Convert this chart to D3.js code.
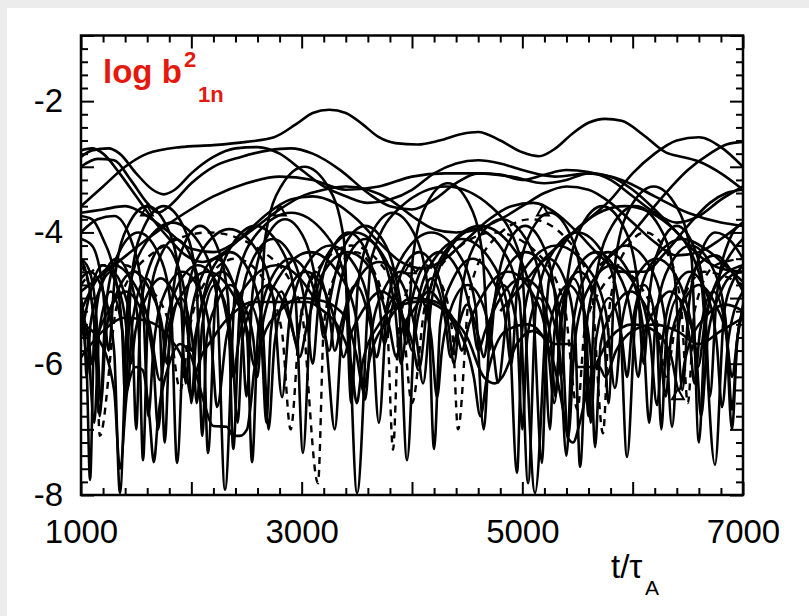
<!DOCTYPE html>
<html>
<head>
<meta charset="utf-8">
<script src="https://cdn.jsdelivr.net/npm/d3@7"></script>
<style>
  body { margin: 0; background: #ececec; }
  svg { display: block; }
</style>
</head>
<body>
<svg id="chart"></svg>
<script>
// Tick labels
const xLabelTicks = [1000, 3000, 5000, 7000];
const yLabelTicks = [-2, -4, -6, -8];

// Smooth upper curves [t, log b^2]
const u1 = [[1000,-3.6],[1200,-3.3],[1400,-3.0],[1600,-2.8],[1900,-2.7],[2200,-2.67],[2500,-2.62],[2750,-2.55],[2950,-2.35],[3100,-2.18],[3250,-2.13],[3400,-2.18],[3550,-2.35],[3700,-2.55],[3850,-2.64],[4050,-2.66],[4250,-2.6],[4450,-2.5],[4600,-2.47],[4800,-2.6],[5000,-2.78],[5150,-2.84],[5300,-2.72],[5450,-2.5],[5600,-2.33],[5750,-2.27],[5900,-2.3],[6100,-2.52],[6300,-2.78],[6450,-2.85],[6600,-2.92],[6800,-3.1],[7000,-3.35]];
const u2 = [[1000,-2.85],[1100,-2.75],[1250,-2.72],[1350,-2.8],[1500,-3.1],[1650,-3.35],[1750,-3.42],[1850,-3.35],[2000,-3.1],[2200,-2.85],[2400,-2.72],[2600,-2.7],[2800,-2.8],[3000,-3.05],[3200,-3.3],[3400,-3.45],[3600,-3.55],[3800,-3.5],[4000,-3.35],[4200,-3.1],[4400,-2.95],[4600,-2.9],[4800,-2.95],[5000,-3.05],[5300,-3.15],[5600,-3.1],[5900,-3.2],[6200,-3.45],[6500,-3.7],[6800,-3.85],[7000,-3.9]];
const u3 = [[1000,-3.0],[1150,-2.88],[1300,-2.9],[1450,-3.2],[1600,-3.55],[1700,-3.7],[1800,-3.6],[2000,-3.25],[2200,-3.0],[2450,-2.85],[2700,-2.75],[2900,-2.72],[3100,-2.8],[3350,-3.05],[3600,-3.4],[3800,-3.6],[4000,-3.65],[4200,-3.5],[4400,-3.25],[4600,-3.1],[4800,-3.12],[5000,-3.2],[5200,-3.12],[5400,-3.05],[5600,-3.08],[5800,-3.2],[6000,-3.45],[6200,-3.7],[6400,-3.85],[6600,-3.75],[6800,-3.5],[7000,-3.3]];
const u4 = [[4800,-5.2],[5000,-4.8],[5200,-4.4],[5400,-4.1],[5600,-3.8],[5800,-3.5],[6000,-3.1],[6200,-2.8],[6400,-2.6],[6600,-2.55],[6800,-2.7],[7000,-3.0]];
const u5 = [[5700,-4.5],[5900,-4.2],[6100,-3.8],[6300,-3.4],[6500,-3.05],[6700,-2.8],[6850,-2.66],[7000,-2.62]];
const u6 = [[1000,-3.7],[1200,-3.65],[1400,-3.6],[1600,-3.75],[1800,-4.0],[2000,-4.25],[2200,-4.3],[2400,-4.15],[2600,-3.9],[2800,-3.65],[3000,-3.45],[3200,-3.35],[3400,-3.3],[3600,-3.35],[3800,-3.5],[4000,-3.75],[4200,-3.95],[4400,-4.0],[4600,-3.95],[4800,-3.8],[5000,-3.6],[5200,-3.4],[5400,-3.3],[5600,-3.35],[5800,-3.55],[6000,-3.85],[6200,-4.15],[6400,-4.35],[6600,-4.3],[6800,-4.1],[7000,-3.85]];
const u7 = [[1000,-4.9],[1300,-4.5],[1600,-4.1],[1900,-3.75],[2200,-3.45],[2500,-3.25],[2800,-3.15],[3100,-3.2],[3400,-3.35],[3700,-3.3],[4000,-3.15],[4300,-3.1],[4600,-3.1],[4900,-3.15],[5200,-3.25],[5400,-3.2],[5600,-3.1],[5800,-3.15],[6000,-3.35],[6200,-3.65],[6400,-4.0],[6600,-4.35],[6800,-4.55],[7000,-4.6]];
const u8 = [[1000,-2.75],[1100,-2.72],[1200,-2.8],[1350,-3.1],[1500,-3.45],[1650,-3.8],[1800,-4.1],[1950,-4.35],[2100,-4.45],[2300,-4.3],[2500,-4.0],[2700,-3.7],[2900,-3.5],[3100,-3.45],[3300,-3.55],[3500,-3.8],[3700,-4.15],[3900,-4.45],[4100,-4.55],[4300,-4.4],[4500,-4.1],[4700,-3.8],[4900,-3.6],[5100,-3.55],[5300,-3.7],[5500,-4.0],[5700,-4.35],[5900,-4.6],[6100,-4.6],[6300,-4.3],[6500,-3.9],[6700,-3.55],[6850,-3.4],[7000,-3.35]];

// Arched curves with sharp dips
const l1 = [[1000,-4.7],[1080,-4.6],[1200,-4.9],[1300,-5.8],[1353,-7.97],[1429,-4.95],[1591,-4.15],[1829,-3.85],[2067,-4.15],[2229,-4.95],[2305,-7.92],[2401,-4.8],[2604,-4.0],[2904,-3.7],[3203,-4.0],[3406,-4.8],[3502,-7.97],[3631,-4.4],[3905,-3.6],[4309,-3.3],[4712,-3.6],[4986,-4.4],[5115,-7.97],[5245,-4.7],[5523,-3.9],[5930,-3.6],[6338,-3.9],[6616,-4.7],[6746,-7.54],[6830,-5.2],[6920,-4.7],[7000,-4.5]];
const l2 = [[1000,-5.3],[1050,-6.0],[1082,-7.77],[1120,-5.5],[1200,-4.7],[1322,-4.4],[1442,-4.7],[1524,-5.5],[1562,-7.47],[1609,-5.2],[1709,-4.4],[1856,-4.1],[2004,-4.4],[2104,-5.2],[2151,-7.36],[2220,-5.0],[2366,-4.2],[2581,-3.9],[2797,-4.2],[2943,-5.0],[3012,-7.36],[3087,-5.1],[3248,-4.3],[3483,-4.0],[3719,-4.3],[3880,-5.1],[3955,-7.47],[4035,-5.2],[4204,-4.4],[4453,-4.1],[4703,-4.4],[4872,-5.2],[4952,-7.66],[4998,-5.5],[5095,-4.7],[5237,-4.4],[5380,-4.7],[5477,-5.5],[5523,-7.57],[5590,-5.3],[5731,-4.5],[5940,-4.2],[6149,-4.5],[6290,-5.3],[6357,-6.96],[6420,-5.4],[6550,-4.6],[6750,-4.35],[6900,-4.6],[7000,-4.9]];
const l3 = [[1000,-5.2],[1150,-4.7],[1300,-4.5],[1450,-4.7],[1620,-5.4],[1716,-6.25],[1785,-5.5],[1931,-4.9],[2147,-4.6],[2362,-4.9],[2508,-5.5],[2577,-6.05],[2657,-5.3],[2826,-4.6],[3076,-4.3],[3325,-4.6],[3494,-5.3],[3574,-6.55],[3626,-5.6],[3737,-4.9],[3900,-4.6],[4064,-4.9],[4175,-5.6],[4227,-6.51],[4271,-5.8],[4365,-5.1],[4503,-4.8],[4642,-5.1],[4736,-5.8],[4780,-6.29],[4865,-5.2],[5045,-4.5],[5310,-4.2],[5575,-4.5],[5755,-5.2],[5840,-6.37],[5900,-5.4],[6028,-4.7],[6216,-4.4],[6404,-4.7],[6532,-5.4],[6592,-6.05],[6660,-5.3],[6800,-4.7],[7000,-4.5]];
const l4 = [[1000,-4.4],[1060,-4.7],[1120,-5.4],[1170,-6.8],[1226,-5.1],[1345,-4.3],[1520,-4.0],[1695,-4.3],[1814,-5.1],[1870,-7.51],[1946,-5.05],[2108,-4.25],[2346,-3.95],[2584,-4.25],[2746,-5.05],[2822,-6.51],[2892,-5.3],[3042,-4.5],[3261,-4.2],[3481,-4.5],[3630,-5.3],[3700,-6.9],[3776,-5.1],[3938,-4.3],[4175,-4.0],[4413,-4.3],[4574,-5.1],[4650,-7.0],[4711,-5.4],[4841,-4.6],[5032,-4.3],[5223,-4.6],[5353,-5.4],[5414,-7.13],[5479,-5.6],[5616,-4.8],[5818,-4.5],[6019,-4.8],[6156,-5.6],[6221,-6.63],[6268,-5.7],[6368,-4.9],[6516,-4.6],[6663,-4.9],[6763,-5.7],[6810,-6.66],[6870,-5.6],[7000,-4.9]];
const l5 = [[1000,-4.0],[1150,-3.8],[1300,-3.75],[1450,-4.1],[1560,-5.0],[1610,-6.8],[1660,-5.7],[1766,-4.9],[1922,-4.6],[2077,-4.9],[2183,-5.7],[2233,-6.66],[2318,-5.6],[2500,-4.8],[2767,-4.5],[3033,-4.8],[3215,-5.6],[3300,-7.0],[3364,-5.55],[3500,-4.75],[3700,-4.45],[3900,-4.75],[4036,-5.55],[4100,-6.3],[4176,-5.05],[4338,-4.25],[4576,-3.95],[4814,-4.25],[4976,-5.05],[5052,-7.82],[5124,-5.1],[5276,-4.3],[5500,-4.0],[5725,-4.3],[5877,-5.1],[5949,-7.42],[6030,-5.2],[6200,-4.4],[6450,-4.1],[6700,-4.3],[6900,-4.6],[7000,-4.75]];
const l6 = [[1000,-5.6],[1100,-4.8],[1200,-4.5],[1300,-4.7],[1400,-5.3],[1450,-6.0],[1494,-5.5],[1588,-5.0],[1725,-4.7],[1863,-5.0],[1956,-5.4],[2000,-5.8],[2056,-5.4],[2175,-4.6],[2350,-4.3],[2525,-4.6],[2644,-5.4],[2700,-7.0],[2754,-5.7],[2870,-4.9],[3040,-4.6],[3210,-4.9],[3326,-5.5],[3380,-5.9],[3434,-5.6],[3550,-5.2],[3720,-4.9],[3890,-5.2],[4006,-5.7],[4060,-6.1],[4149,-5.0],[4340,-4.2],[4619,-3.9],[4899,-4.2],[5089,-5.0],[5178,-7.51],[5216,-5.9],[5298,-5.1],[5418,-4.8],[5539,-5.1],[5621,-5.9],[5659,-7.27],[5710,-5.7],[5819,-5.2],[5980,-4.9],[6140,-5.2],[6249,-5.8],[6300,-6.5],[6348,-5.6],[6450,-5.1],[6600,-4.8],[6750,-5.1],[6852,-5.6],[6900,-6.2],[6950,-5.6],[7000,-5.1]];
const l7 = [[1000,-5.3],[1060,-5.5],[1100,-6.0],[1148,-5.6],[1250,-5.2],[1400,-4.9],[1550,-5.2],[1652,-5.9],[1700,-7.0],[1758,-5.6],[1880,-4.8],[2060,-4.5],[2240,-4.8],[2362,-5.6],[2420,-6.9],[2465,-5.6],[2560,-5.1],[2700,-4.8],[2840,-5.1],[2935,-5.6],[2980,-5.9],[3050,-5.4],[3200,-4.6],[3420,-4.3],[3640,-4.6],[3790,-5.4],[3860,-5.9],[3907,-5.5],[4008,-5.2],[4155,-4.9],[4303,-5.2],[4403,-5.5],[4450,-5.8],[4517,-5.4],[4660,-4.9],[4870,-4.6],[5080,-4.9],[5223,-5.6],[5290,-6.6],[5351,-5.4],[5480,-4.6],[5670,-4.3],[5860,-4.6],[5989,-5.3],[6050,-6.2],[6096,-5.6],[6193,-5.2],[6335,-4.9],[6478,-5.2],[6574,-5.8],[6620,-6.8],[6680,-5.6],[6800,-4.9],[6900,-4.65],[7000,-4.6]];
const l8 = [[1000,-5.4],[1150,-5.6],[1300,-6.4],[1353,-7.6],[1420,-6.4],[1500,-6.05],[1560,-6.1],[1620,-6.8],[1660,-7.5],[1700,-6.8],[1800,-6.0],[1900,-5.7],[2000,-5.9],[2100,-6.5],[2200,-6.95],[2320,-6.96],[2380,-7.1],[2440,-7.1],[2505,-7.0],[2540,-6.6],[2570,-6.1],[2650,-5.6],[2800,-5.2],[3000,-5.0],[3200,-5.05],[3400,-5.3],[3500,-5.9],[3560,-6.4],[3620,-5.9],[3800,-5.3],[4000,-5.0],[4200,-5.05],[4400,-5.4],[4560,-6.2],[4620,-6.8],[4680,-6.2],[4850,-5.5],[5050,-5.4],[5250,-5.8],[5380,-6.8],[5414,-7.13],[5460,-7.2],[5520,-6.9],[5600,-6.3],[5700,-5.9],[5800,-5.6],[6000,-5.4],[6200,-5.5],[6350,-5.9],[6420,-6.4],[6480,-5.9],[6650,-5.3],[6850,-5.1],[7000,-5.2]];
const l9 = [[1000,-5.9],[1200,-5.5],[1400,-5.3],[1600,-5.35],[1800,-5.6],[1950,-6.1],[2000,-6.5],[2050,-6.1],[2200,-5.6],[2400,-5.2],[2550,-5.06],[3050,-5.06],[3200,-5.2],[3350,-5.5],[3450,-6.0],[3500,-6.6],[3550,-6.0],[3700,-5.4],[3900,-5.1],[4100,-5.05],[4300,-5.2],[4500,-5.6],[4650,-6.2],[4750,-6.3],[4820,-6.2],[4950,-5.7],[5100,-5.5],[5200,-5.6],[5300,-5.7],[5450,-5.7],[5500,-6.05],[5700,-6.05],[5750,-6.2],[5850,-5.8],[6000,-5.5],[6200,-5.4],[6400,-5.5],[6600,-5.7],[6800,-5.5],[7000,-5.3]];
const l10 = [[1000,-4.1],[1100,-4.2],[1200,-4.9],[1250,-5.8],[1306,-4.7],[1425,-3.9],[1600,-3.6],[1775,-3.9],[1894,-4.7],[1950,-6.3],[1994,-5.3],[2088,-4.7],[2225,-4.4],[2363,-4.7],[2456,-5.4],[2500,-6.5],[2556,-4.9],[2675,-4.1],[2850,-3.8],[3025,-4.1],[3144,-4.9],[3200,-5.6],[3260,-5.0],[3388,-4.2],[3575,-3.9],[3763,-4.2],[3890,-5.0],[3950,-5.7],[4010,-4.35],[4138,-3.55],[4325,-3.25],[4513,-3.55],[4640,-4.35],[4700,-5.8],[4752,-5.0],[4863,-4.2],[5025,-3.9],[5188,-4.2],[5298,-5.0],[5350,-6.2],[5410,-4.7],[5538,-3.9],[5725,-3.6],[5913,-3.9],[6040,-4.7],[6100,-6.0],[6148,-5.0],[6250,-4.2],[6400,-3.9],[6550,-4.2],[6652,-5.0],[6700,-6.5],[6760,-5.0],[6880,-4.1],[7000,-3.85]];
const l11 = [[1000,-3.75],[1100,-3.8],[1200,-4.1],[1300,-4.6],[1370,-5.4],[1400,-6.5],[1456,-4.7],[1575,-3.9],[1750,-3.6],[1925,-3.9],[2044,-4.7],[2100,-7.1],[2140,-5.6],[2225,-5.1],[2350,-4.8],[2475,-5.1],[2560,-5.6],[2600,-6.2],[2668,-4.1],[2813,-3.3],[3025,-3.0],[3238,-3.3],[3382,-4.1],[3450,-6.6],[3510,-4.8],[3638,-4.0],[3825,-3.7],[4013,-4.0],[4140,-4.8],[4200,-7.3],[4256,-5.4],[4375,-4.7],[4550,-4.4],[4725,-4.7],[4844,-5.3],[4900,-6.0],[4956,-4.8],[5075,-4.0],[5250,-3.7],[5425,-4.0],[5544,-4.8],[5600,-6.8],[5668,-4.7],[5813,-3.9],[6025,-3.6],[6238,-3.9],[6382,-4.7],[6450,-6.4],[6510,-5.1],[6620,-4.3],[6750,-4.0],[6900,-4.15],[7000,-4.4]];
const l12 = [[1000,-4.4],[1080,-4.6],[1140,-5.3],[1180,-6.6],[1228,-5.5],[1330,-4.9],[1480,-4.6],[1630,-4.9],[1732,-5.4],[1780,-6.0],[1828,-5.0],[1930,-4.2],[2080,-3.9],[2230,-4.2],[2332,-5.0],[2380,-7.3],[2438,-5.2],[2560,-4.4],[2740,-4.1],[2920,-4.4],[3042,-5.2],[3100,-6.0],[3152,-5.1],[3263,-4.3],[3425,-4.0],[3588,-4.3],[3698,-5.0],[3750,-5.7],[3800,-5.3],[3908,-4.6],[4065,-4.3],[4223,-4.6],[4330,-5.4],[4380,-6.0],[4450,-4.9],[4598,-4.1],[4815,-3.8],[5033,-4.1],[5180,-4.9],[5250,-7.0],[5292,-5.5],[5383,-4.9],[5515,-4.6],[5648,-4.9],[5738,-5.5],[5780,-6.6],[5846,-4.4],[5985,-3.6],[6190,-3.3],[6395,-3.6],[6534,-4.4],[6600,-7.2],[6660,-5.4],[6800,-4.6],[6920,-4.25],[7000,-4.1]];
const l13 = [[1000,-5.0],[1030,-5.4],[1050,-6.2],[1086,-5.4],[1163,-4.9],[1275,-4.6],[1388,-4.9],[1464,-5.5],[1500,-7.0],[1540,-5.2],[1625,-4.5],[1750,-4.2],[1875,-4.5],[1960,-5.2],[2000,-6.6],[2044,-5.6],[2138,-4.9],[2275,-4.6],[2413,-4.9],[2506,-5.6],[2550,-7.5],[2606,-5.5],[2725,-4.7],[2900,-4.4],[3075,-4.7],[3194,-5.4],[3250,-5.8],[3302,-5.2],[3413,-4.4],[3575,-4.1],[3738,-4.4],[3848,-5.2],[3900,-6.0],[3956,-5.4],[4075,-4.6],[4250,-4.3],[4425,-4.6],[4544,-5.3],[4600,-5.8],[4664,-5.5],[4800,-5.0],[5000,-4.7],[5200,-5.0],[5336,-5.8],[5400,-7.4],[5460,-5.4],[5588,-4.6],[5775,-4.3],[5963,-4.6],[6090,-5.4],[6150,-6.9],[6210,-5.3],[6338,-4.5],[6525,-4.2],[6713,-4.5],[6840,-5.3],[6900,-7.0],[6950,-5.6],[7000,-5.2]];
const l14 = [[1000,-5.2],[1060,-5.6],[1120,-6.9],[1165,-5.5],[1270,-4.9],[1375,-5.5],[1420,-6.4],[1471,-5.3],[1590,-4.7],[1709,-5.3],[1760,-7.2],[1804,-5.6],[1905,-5.0],[2007,-5.6],[2050,-6.6],[2100,-5.4],[2215,-4.8],[2331,-5.4],[2380,-6.2],[2425,-5.7],[2530,-5.1],[2635,-5.7],[2680,-6.9],[2721,-5.5],[2815,-4.9],[2910,-5.4],[2950,-5.7],[3003,-5.2],[3125,-4.6],[3248,-5.2],[3300,-5.8],[3357,-5.4],[3490,-4.8],[3623,-5.4],[3680,-5.9],[3728,-5.5],[3840,-5.0],[3952,-5.5],[4000,-5.8],[4053,-5.3],[4175,-4.7],[4298,-5.3],[4350,-5.9],[4395,-5.6],[4500,-5.1],[4605,-5.6],[4650,-5.9],[4703,-5.4],[4825,-4.8],[4948,-5.4],[5000,-7.0],[5045,-5.6],[5150,-5.0],[5255,-5.6],[5300,-6.5],[5348,-5.3],[5460,-4.7],[5572,-5.3],[5620,-6.9],[5670,-5.6],[5785,-5.0],[5901,-5.6],[5950,-6.2],[5997,-5.4],[6105,-4.8],[6214,-5.4],[6260,-7.0],[6305,-5.6],[6410,-5.0],[6515,-5.6],[6560,-6.3],[6611,-5.5],[6730,-4.9],[6849,-5.5],[6900,-6.7],[6950,-5.6],[7000,-5.2]];

// Dashed curves
const d1 = [[1000,-4.5],[1080,-4.9],[1140,-5.8],[1170,-7.1],[1328,-5.1],[1665,-4.3],[2159,-4.0],[2654,-4.3],[2990,-5.1],[3148,-7.82],[3202,-5.4],[3318,-4.6],[3488,-4.3],[3658,-4.6],[3774,-5.4],[3828,-7.31],[3875,-5.6],[3975,-4.8],[4123,-4.5],[4270,-4.8],[4370,-5.6],[4417,-7.0],[4522,-4.9],[4746,-4.1],[5074,-3.8],[5403,-4.1],[5626,-4.9],[5731,-7.06],[5793,-5.1],[5923,-4.3],[6116,-4.0],[6308,-4.3],[6438,-5.1],[6500,-6.6],[6560,-5.2],[6750,-4.5],[7000,-4.4]];
const d2 = [[1000,-4.8],[1200,-4.5],[1400,-4.5],[1600,-4.8],[1800,-5.4],[1900,-6.4],[1980,-5.5],[2150,-4.7],[2400,-4.4],[2650,-4.7],[2820,-5.5],[2900,-7.0],[2988,-5.3],[3175,-4.5],[3450,-4.2],[3725,-4.5],[3912,-5.3],[4000,-6.6],[4120,-5.1],[4375,-4.3],[4750,-4.0],[5125,-4.3],[5380,-5.1],[5500,-6.7],[5564,-5.5],[5700,-4.9],[5900,-4.6],[6100,-4.9],[6236,-5.5],[6300,-6.2],[6400,-5.3],[6650,-4.6],[7000,-4.8]];

// Open triangle markers
const triangles = [[1598,-3.69],[2803,-3.69],[3982,-4.57],[5187,-3.69],[6410,-6.49]];

const solidSeries = [u1, u2, u3, u4, u5, u6, u7, u8, l1, l2, l3, l4, l5, l6, l7, l8, l9, l10, l11, l12, l13, l14];
const dashedSeries = [d1, d2];

const width = 809;
const height = 616;
const plotLeft = 81, plotRight = 743, plotTop = 35.5, plotBottom = 495;
const font = "'Liberation Sans', Arial, Helvetica, sans-serif";
const red = "#e3190d";

const x = d3.scaleLinear().domain([1000, 7000]).range([plotLeft, plotRight]);
const y = d3.scaleLinear().domain([-8, -1]).range([plotBottom, plotTop]);

const svg = d3.select("#chart")
  .attr("width", width)
  .attr("height", height)
  .attr("viewBox", [0, 0, width, height]);

// Page background
svg.append("rect").attr("width", width).attr("height", height).attr("fill", "#ececec");
svg.append("rect").attr("x", 7).attr("y", 8).attr("width", width - 7).attr("height", height - 8).attr("fill", "#ffffff");

svg.append("clipPath").attr("id", "plot-clip")
  .append("rect")
  .attr("x", plotLeft).attr("y", plotTop)
  .attr("width", plotRight - plotLeft).attr("height", plotBottom - plotTop);

const line = d3.line()
  .x((d) => x(d[0]))
  .y((d) => y(d[1]))
  .curve(d3.curveMonotoneX);

const lines = svg.append("g").attr("clip-path", "url(#plot-clip)");

lines.append("g")
  .attr("fill", "none")
  .attr("stroke", "#000")
  .attr("stroke-width", 2.6)
  .attr("stroke-linejoin", "round")
  .selectAll("path")
  .data(solidSeries)
  .join("path")
  .attr("d", line);

lines.append("g")
  .attr("fill", "none")
  .attr("stroke", "#000")
  .attr("stroke-width", 2.4)
  .attr("stroke-dasharray", "7,6")
  .selectAll("path")
  .data(dashedSeries)
  .join("path")
  .attr("d", line);

lines.append("g")
  .attr("fill", "none")
  .attr("stroke", "#000")
  .attr("stroke-width", 2)
  .selectAll("path")
  .data(triangles)
  .join("path")
  .attr("transform", (d) => `translate(${x(d[0])},${y(d[1])})`)
  .attr("d", d3.symbol(d3.symbolTriangle, 60));

// Ticks (inward, all four sides)
const xMajor = d3.range(1000, 7001, 1000);
const xMinor = d3.range(1000, 7001, 200).filter((v) => v % 1000 !== 0);
const yMajor = d3.range(-8, -0.99, 1);
const yMinor = d3.range(-8, -0.99, 0.2).map((v) => +v.toFixed(1)).filter((v) => Math.abs(v - Math.round(v)) > 0.01);

const tickAxis = (axis, values, size, transform) => {
  svg.append("g")
    .attr("transform", transform)
    .call(axis.tickValues(values).tickSize(-size).tickFormat(""))
    .call((g) => g.select(".domain").remove())
    .call((g) => g.selectAll(".tick line").attr("stroke", "#000").attr("stroke-width", 2));
};

tickAxis(d3.axisBottom(x), xMinor, 7, `translate(0,${plotBottom})`);
tickAxis(d3.axisBottom(x), xMajor, 13, `translate(0,${plotBottom})`);
tickAxis(d3.axisTop(x), xMinor, 7, `translate(0,${plotTop})`);
tickAxis(d3.axisTop(x), xMajor, 13, `translate(0,${plotTop})`);
tickAxis(d3.axisLeft(y), yMinor, 7, `translate(${plotLeft},0)`);
tickAxis(d3.axisLeft(y), yMajor, 13, `translate(${plotLeft},0)`);
tickAxis(d3.axisRight(y), yMinor, 7, `translate(${plotRight},0)`);
tickAxis(d3.axisRight(y), yMajor, 13, `translate(${plotRight},0)`);

// Frame
svg.append("rect")
  .attr("x", plotLeft).attr("y", plotTop)
  .attr("width", plotRight - plotLeft).attr("height", plotBottom - plotTop)
  .attr("fill", "none")
  .attr("stroke", "#000")
  .attr("stroke-width", 2.5);

// Tick labels
svg.append("g")
  .attr("transform", `translate(0,${plotBottom})`)
  .call(d3.axisBottom(x).tickValues(xLabelTicks).tickSize(0).tickPadding(25).tickFormat(d3.format("d")))
  .call((g) => g.select(".domain").remove())
  .call((g) => g.selectAll("text").attr("font-family", font).attr("font-size", 33).attr("fill", "#000"));

svg.append("g")
  .attr("transform", `translate(${plotLeft},0)`)
  .call(d3.axisLeft(y).tickValues(yLabelTicks).tickSize(0).tickPadding(18).tickFormat((d) => "-" + Math.abs(d)))
  .call((g) => g.select(".domain").remove())
  .call((g) => g.selectAll("text").attr("font-family", font).attr("font-size", 33).attr("fill", "#000"));

// Axis title t/τ_A
const xTitle = svg.append("g").attr("font-family", font).attr("fill", "#000");
xTitle.append("text").attr("x", 611).attr("y", 578).attr("font-size", 33).text("t/τ");
xTitle.append("text").attr("x", 645).attr("y", 595).attr("font-size", 21).text("A");

// Quantity label log b²₁ₙ
const qLabel = svg.append("g").attr("font-family", font).attr("font-weight", "bold").attr("fill", red);
qLabel.append("text").attr("x", 103).attr("y", 83).attr("font-size", 33).text("log b");
qLabel.append("text").attr("x", 184).attr("y", 67).attr("font-size", 22).text("2");
qLabel.append("text").attr("x", 198).attr("y", 102).attr("font-size", 22).text("1n");
</script>
</body>
</html>
